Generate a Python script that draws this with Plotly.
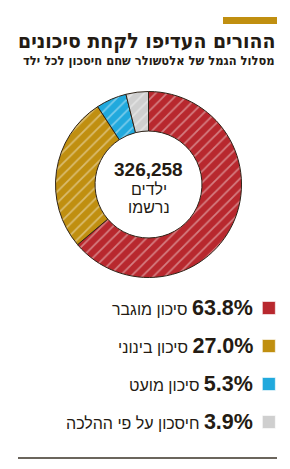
import plotly.graph_objects as go

categories = ["סיכון מוגבר", "סיכון בינוני", "סיכון מועט", "חיסכון על פי ההלכה"]
shares = [63.8, 27.0, 5.3, 3.9]
colors = ["#b8282e", "#c08f10", "#21a9dd", "#cfcfcf"]
total_label = "326,258"
center_sub = ["ילדים", "נרשמו"]
title = "ההורים העדיפו לקחת סיכונים"
subtitle = "מסלול הגמל של אלטשולר שחם חיסכון לכל ילד"

W, H = 290, 469
TXT = "#241b13"
FONT = "Liberation Sans"
CFONT = "DejaVu Sans Condensed"

fig = go.Figure()

fig.add_trace(go.Pie(
    values=shares,
    labels=categories,
    sort=False,
    direction="clockwise",
    rotation=0,
    hole=0.575,
    textinfo="none",
    hoverinfo="label+percent",
    marker=dict(
        colors=colors,
        line=dict(color="#2e2318", width=1),
        pattern=dict(shape="/", fgcolor="rgba(255,255,255,0.8)", size=8,
                     solidity=0.22, fillmode="overlay"),
    ),
    domain=dict(x=[0.1914, 0.8328], y=[0.4083, 0.8049]),
    showlegend=False,
))

# legend rows (index-based y on a hidden axis)
idx = list(range(len(categories)))
fig.add_trace(go.Scatter(
    x=[0.927] * len(categories),
    y=idx,
    mode="markers",
    marker=dict(symbol="square", size=13, color=colors,
                line=dict(color="rgba(255,255,255,0.6)", width=1)),
    xaxis="x2", yaxis="y2",
    hoverinfo="skip",
    showlegend=False,
))

annotations = []
for i, (c, v) in enumerate(zip(categories, shares)):
    annotations.append(dict(
        x=0.878, y=i, xref="x2", yref="y2",
        xanchor="right", yanchor="middle", showarrow=False,
        text=f"{c}\u200e <b><span style='font-size:21.5px'>{v:.1f}%</span></b>",
        font=dict(family=FONT, size=16, color=TXT),
    ))

# center text
cx = 148.5 / W
annotations.append(dict(x=cx, y=1 - 169 / H, xref="paper", yref="paper",
                        xanchor="center", yanchor="middle", showarrow=False,
                        text=f"<b>{total_label}</b>",
                        font=dict(family=FONT, size=19, color=TXT)))
for j, (t, yy) in enumerate(zip(center_sub, [189, 207])):
    annotations.append(dict(x=cx, y=1 - yy / H, xref="paper", yref="paper",
                            xanchor="center", yanchor="middle", showarrow=False,
                            text=t, font=dict(family=FONT, size=16, color=TXT)))

# title/subtitle
annotations.append(dict(x=277 / W, y=1 - 41 / H, xref="paper", yref="paper",
                        xanchor="right", yanchor="middle", showarrow=False,
                        text=f"<b>{title}</b>",
                        font=dict(family=CFONT, size=21, color=TXT)))
annotations.append(dict(x=277 / W, y=1 - 60 / H, xref="paper", yref="paper",
                        xanchor="right", yanchor="middle", showarrow=False,
                        text=f"<b>{subtitle}</b>",
                        font=dict(family=CFONT, size=12.8, color=TXT)))

shapes = [
    dict(type="rect", xref="paper", yref="paper",
         x0=223 / W, x1=277 / W, y0=1 - 24 / H, y1=1 - 17 / H,
         fillcolor="#c08f10", line=dict(width=0)),
    dict(type="line", xref="paper", yref="paper",
         x0=18 / W, x1=277 / W, y0=1 - 458 / H, y1=1 - 458 / H,
         line=dict(color="#3a3226", width=1.5)),
]

fig.update_layout(
    width=W, height=H,
    margin=dict(l=0, r=0, t=0, b=0),
    paper_bgcolor="white", plot_bgcolor="white",
    xaxis2=dict(domain=[0, 1], range=[0, 1], visible=False, fixedrange=True),
    yaxis2=dict(domain=[(H - 441) / H, (H - 289) / H], range=[3.5, -0.5],
                visible=False, fixedrange=True, anchor="x2"),
    annotations=annotations,
    shapes=shapes,
)

fig.write_html("out.html")
